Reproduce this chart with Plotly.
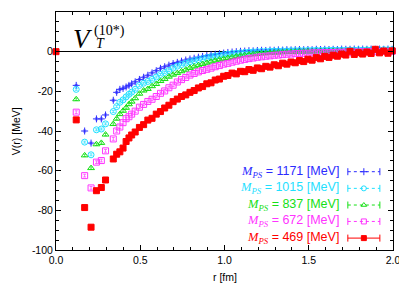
import plotly.graph_objects as go

# ---------------- data ----------------
r_fm = [0.0, 0.12, 0.17, 0.208, 0.24, 0.269, 0.294, 0.34, 0.36, 0.379, 0.398, 0.416, 0.433, 0.449,
        0.470, 0.495, 0.520, 0.545, 0.570, 0.595, 0.620, 0.645, 0.670, 0.695, 0.720, 0.745, 0.770,
        0.795, 0.820, 0.845, 0.870, 0.895, 0.920, 0.945, 0.970, 0.995, 1.020, 1.045, 1.070, 1.095,
        1.120, 1.145, 1.170, 1.195, 1.220, 1.245, 1.270, 1.295, 1.320, 1.345, 1.370, 1.395, 1.420,
        1.445, 1.470, 1.495, 1.520, 1.545, 1.570, 1.595, 1.620, 1.645, 1.670, 1.695, 1.720, 1.745,
        1.770, 1.795, 1.820, 1.845, 1.870, 1.895, 1.920, 1.945, 1.970, 1.995]

v_1171 = [None, -17.0, -40.0, -46.1, -33.9, -33.9, -31.9, -24.5, -20.5, -19.0, -18.5, -17.8, -17.0, -16.2,
          -15.2, -14.0, -12.9, -11.9, -10.7, -9.6, -8.4, -7.6, -6.8, -6.0, -5.4, -4.8, -4.2,
          -3.7, -3.3, -2.8, -2.4, -2.0, -1.6, -1.3, -1.0, -0.7, -0.4, -0.2, 0.0, 0.2,
          0.3, 0.5, 0.4, 0.6, 0.7, 0.6, 0.8, 0.7, 0.9, 0.8, 1.0, 0.9, 1.0,
          1.1, 1.0, 1.1, 1.0, 1.2, 1.1, 1.2, 1.1, 1.2, 1.1, 1.3, 1.2, 1.2,
          1.3, 1.2, 1.3, 1.2, 1.3, 1.2, 1.3, 1.2, 1.3, 1.2]

v_1015 = [None, -19.0, -45.6, -52.0, -39.4, -39.0, -36.4, -30.2, -27.7, -25.5, -24.3, -22.8, -21.5, -20.4,
          -19.0, -17.0, -15.9, -15.0, -14.0, -12.8, -11.5, -10.5, -9.5, -8.3, -7.3, -6.5, -5.8,
          -5.1, -4.5, -4.0, -3.5, -3.0, -2.6, -2.2, -1.9, -1.5, -1.2, -1.0, -0.8, -0.6,
          -0.4, -0.3, -0.1, 0.0, 0.1, 0.1, 0.2, 0.3, 0.3, 0.4, 0.4, 0.5, 0.5,
          0.6, 0.5, 0.6, 0.6, 0.7, 0.6, 0.7, 0.7, 0.8, 0.7, 0.8, 0.7, 0.8,
          0.8, 0.9, 0.8, 0.9, 0.8, 0.9, 0.9, 1.0, 0.9, 1.0]

v_837 = [None, -24.0, -52.3, -58.7, -46.7, -46.0, -41.8, -36.5, -33.8, -31.5, -29.8, -28.3, -26.5, -25.2,
         -23.5, -21.2, -19.6, -18.8, -17.4, -16.3, -14.8, -13.8, -12.6, -11.6, -10.8, -9.9, -9.1,
         -8.2, -7.5, -6.9, -6.2, -5.6, -5.0, -4.5, -4.0, -3.6, -3.2, -2.8, -2.4, -2.0,
         -1.8, -1.5, -1.3, -1.1, -0.9, -0.8, -0.6, -0.5, -0.4, -0.3, -0.2, -0.2, -0.1,
         0.0, 0.0, 0.1, 0.0, 0.1, 0.2, 0.1, 0.2, 0.3, 0.2, 0.3, 0.2, 0.4,
         0.3, 0.4, 0.3, 0.5, 0.4, 0.5, 0.4, 0.6, 0.5, 0.6]

v_672 = [None, -30.5, -62.5, -68.7, -55.7, -54.9, -50.0, -44.0, -40.0, -38.0, -35.8, -33.8, -32.8, -31.5,
         -30.0, -28.0, -26.6, -25.1, -24.0, -22.6, -21.0, -19.8, -18.2, -16.9, -15.3, -14.1, -13.0,
         -11.8, -11.0, -10.2, -9.5, -8.9, -8.3, -7.6, -7.0, -6.3, -5.9, -5.3, -4.8, -4.3,
         -3.9, -3.5, -3.2, -2.8, -2.6, -2.3, -2.1, -1.8, -1.7, -1.5, -1.3, -1.2, -1.0,
         -1.0, -0.8, -0.8, -0.6, -0.6, -0.5, -0.5, -0.4, -0.4, -0.3, -0.3, -0.2, -0.3,
         -0.1, -0.2, 0.0, -0.1, 0.1, 0.0, 0.1, 0.2, 0.1, 0.2]

v_469 = [0.0, -34.4, -78.6, -88.5, -70.1, -68.5, -64.7, -54.1, -51.7, -50.5, -48.6, -45.3, -43.5, -42.0,
         -40.5, -38.2, -36.8, -34.5, -33.6, -31.5, -30.2, -28.4, -27.0, -25.2, -23.9, -22.6, -21.8,
         -20.5, -19.6, -18.3, -17.6, -16.2, -15.7, -14.3, -13.8, -12.4, -12.0, -10.8, -11.2, -9.9,
         -10.1, -9.0, -9.4, -8.2, -8.6, -7.4, -7.8, -6.6, -7.1, -5.8, -6.3, -5.2, -5.6,
         -4.5, -5.0, -3.8, -4.3, -3.0, -3.6, -2.4, -2.9, -1.8, -2.3, -1.2, -1.7, 0.2,
         -1.4, -0.5, -1.2, -0.2, -0.9, 1.2, -0.6, 0.3, -0.8, 0.4]

masses = ["1171", "1015", "837", "672", "469"]
errors = [0.5, 0.5, 0.6, 0.7, 1.0]
x_ticks = [0.0, 0.5, 1.0, 1.5, 2.0]
x_tick_labels = ["0.0", "0.5", "1.0", "1.5", "2.0"]
y_ticks = [20, 0, -20, -40, -60, -80, -100]
y_tick_labels = ["20", "0", "-20", "-40", "-60", "-80", "-100"]

series = [v_1171, v_1015, v_837, v_672, v_469]
colors = ["#2b2bff", "#1fe0ff", "#16e016", "#ff33ff", "#ff0000"]
symbols = ["cross-thin-open", "circle-open", "triangle-up-open", "square-open", "square"]
sizes = [5, 6, 6, 6, 6]
dashes = ["dot", "dot", "dot", "dot", "solid"]

fig = go.Figure()

for v, c, s, sz, e in zip(series, colors, symbols, sizes, errors):
    fig.add_trace(go.Scatter(
        x=r_fm, y=v, mode="markers", showlegend=False, cliponaxis=False,
        marker=dict(symbol=s, size=sz, color=c, line=dict(color=c, width=1)),
        error_y=dict(type="constant", value=e, color=c, thickness=0.7, width=1.5),
    ))

# ---- key (gnuplot-style, sample on the right of the label) ----
key_y = [0.329, 0.259, 0.189, 0.120, 0.050]
key_x0, key_x1, key_xc, key_text_x = 0.866, 0.961, 0.9135, 0.845
for ky, c, s, sz, d, m in zip(key_y, colors, symbols, sizes, dashes, masses):
    fig.add_trace(go.Scatter(
        x=[key_x0, key_x1], y=[ky, ky], xaxis="x2", yaxis="y2", mode="lines+markers",
        showlegend=False, line=dict(color=c, width=1, dash=d),
        marker=dict(symbol="line-ns-open", size=5, color=c, line=dict(color=c, width=1)),
    ))
    fig.add_trace(go.Scatter(
        x=[key_xc], y=[ky], xaxis="x2", yaxis="y2", mode="markers", showlegend=False,
        marker=dict(symbol=s, size=5, color=c, line=dict(color=c, width=1)),
    ))
    fig.add_annotation(
        x=key_text_x, y=ky, xref="paper", yref="paper", xanchor="right", yanchor="middle",
        showarrow=False,
        text=("<span style='font-family:Liberation Serif'><i>M</i><sub><i>PS</i></sub></span>"
              f" = {m} [MeV]"),
        font=dict(family="Liberation Sans", size=12.5, color=c),
    )

# title V_T^(10*)
fig.add_annotation(x=0.162, y=6.4, xref="x", yref="y", showarrow=False, text="<i>V</i>",
                   font=dict(family="Liberation Serif", size=27, color="black"))
fig.add_annotation(x=0.265, y=3.9, xref="x", yref="y", showarrow=False, text="<i>T</i>",
                   font=dict(family="Liberation Serif", size=14, color="black"))
fig.add_annotation(x=0.318, y=10.5, xref="x", yref="y", showarrow=False, text="(10*)",
                   font=dict(family="Liberation Serif", size=14, color="black"))

# axis titles as paper annotations
fig.add_annotation(x=0.5, y=-0.113, xref="paper", yref="paper", showarrow=False,
                   yanchor="middle", text="r [fm]",
                   font=dict(family="Liberation Sans", size=10.5, color="black"))
fig.add_annotation(x=-0.142, y=0.5, xref="paper", yref="paper", showarrow=False,
                   textangle=-90, text="V(r) [MeV]",
                   font=dict(family="Liberation Sans", size=10.5, color="black"))

axis_font = dict(family="Liberation Sans", size=10.5, color="black")
# the page places the figure 8 px in from the top-left corner; margins compensate
fig.update_layout(
    width=407, height=285,
    margin=dict(l=48, r=22, t=4, b=43, autoexpand=False),
    paper_bgcolor="white", plot_bgcolor="white",
    font=axis_font,
    xaxis=dict(range=[0, 2], tickvals=x_ticks, ticktext=x_tick_labels, ticks="inside", ticklen=5,
               tickcolor="black", showline=True, linecolor="black", linewidth=1, mirror="ticks",
               showgrid=False, zeroline=False, tickfont=axis_font, automargin=False,
               minor=dict(dtick=0.1, ticks="inside", ticklen=3, tickcolor="black", showgrid=False)),
    yaxis=dict(range=[-100, 20], tickvals=y_ticks, ticktext=y_tick_labels, ticks="inside", ticklen=5,
               tickcolor="black", showline=True, linecolor="black", linewidth=1, mirror="ticks",
               showgrid=False, zeroline=True, zerolinecolor="black", zerolinewidth=1,
               tickfont=axis_font, automargin=False,
               minor=dict(dtick=5, ticks="inside", ticklen=3, tickcolor="black", showgrid=False)),
    xaxis2=dict(overlaying="x", range=[0, 1], visible=False),
    yaxis2=dict(overlaying="y", range=[0, 1], visible=False),
)

fig.write_html("out.html")
